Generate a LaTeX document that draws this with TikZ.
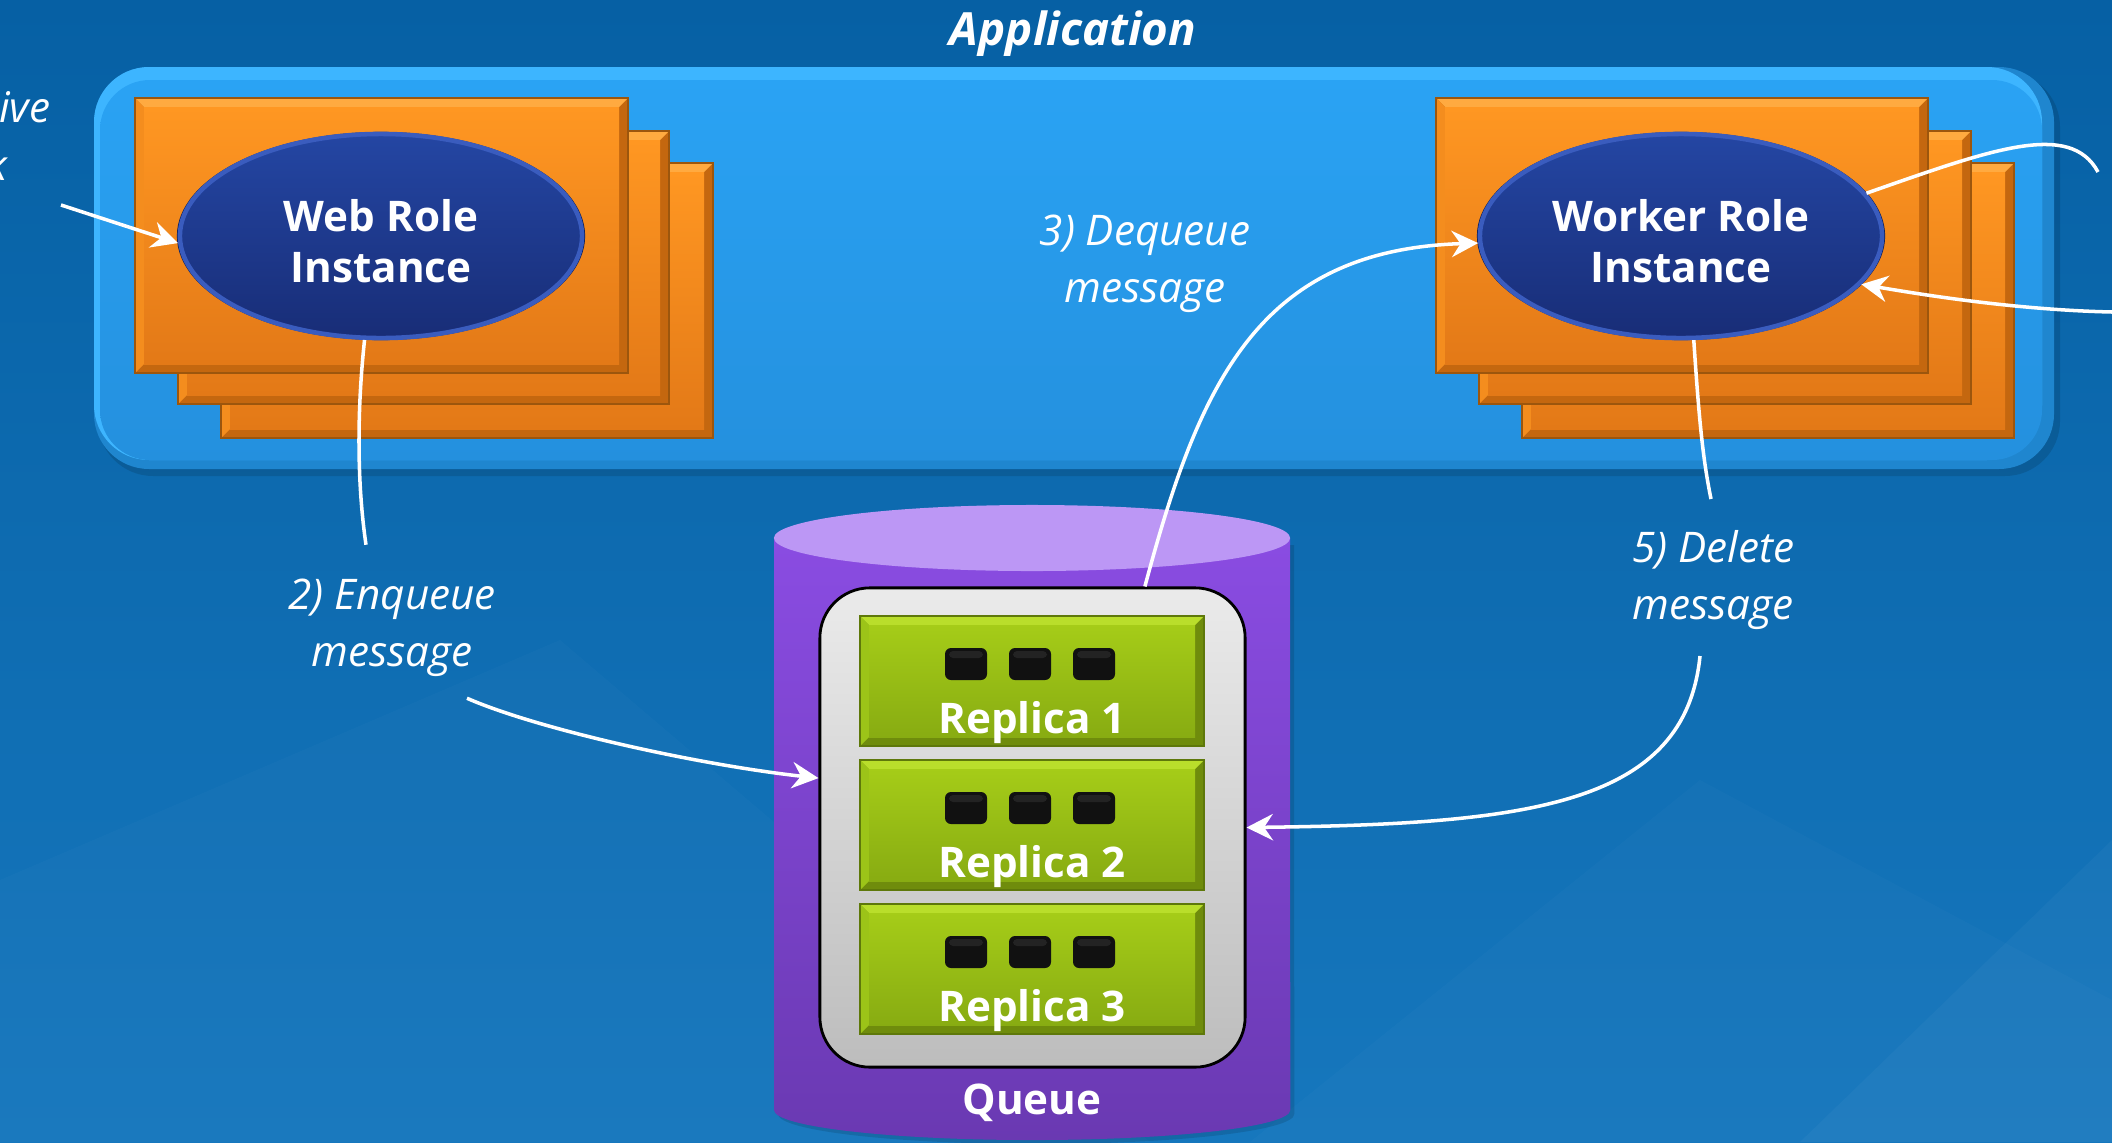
\documentclass[tikz,border=0pt]{standalone}
\usepackage{fontspec}
\setmainfont{Open Sans}
\usetikzlibrary{shapes.geometric,arrows.meta,calc}

\definecolor{bgTop}{HTML}{0660A4}
\definecolor{bgBot}{HTML}{1677BD}
\definecolor{contDark}{HTML}{1F86CF}
\definecolor{contLight}{HTML}{3DB5FF}
\definecolor{contTop}{HTML}{2AA3F4}
\definecolor{contBot}{HTML}{2490DE}
% orange bevel colours
\definecolor{odark}{HTML}{C4670F}
\definecolor{olight}{HTML}{FFAA40}
\definecolor{oleft}{HTML}{F48D1E}
\definecolor{otop}{HTML}{FF9722}
\definecolor{obot}{HTML}{E37917}
\definecolor{oline}{HTML}{9C560D}
% green bevel colours
\definecolor{gdark}{HTML}{6F8C0C}
\definecolor{glight}{HTML}{B9DE2B}
\definecolor{gleft}{HTML}{9CC418}
\definecolor{gtop}{HTML}{A5CC18}
\definecolor{gbot}{HTML}{88AC12}
\definecolor{gline}{HTML}{5E780A}
% ellipse
\definecolor{ellTop}{HTML}{2446A3}
\definecolor{ellBot}{HTML}{182D77}
\definecolor{ellEdge}{HTML}{3A5CBE}
\definecolor{ellOut}{HTML}{0E1D55}
% cylinder
\definecolor{cylTop}{HTML}{8A4CE2}
\definecolor{cylBot}{HTML}{6A39B2}
\definecolor{cylCap}{HTML}{BC97F5}
\definecolor{chipCol}{HTML}{111111}

\newcommand{\bevbox}[6]{%
  \fill[#5dark] (#1,#2) rectangle (#3,#4);
  \fill[#5light] (#1,#2) -- (#3,#2) -- (#3-#6,#2+#6) -- (#1+#6,#2+#6) -- cycle;
  \fill[#5left] (#1,#2) -- (#1+#6,#2+#6) -- (#1+#6,#4-#6) -- (#1,#4) -- cycle;
  \shade[top color=#5top, bottom color=#5bot] (#1+#6,#2+#6) rectangle (#3-#6,#4-#6);
  \draw[#5line, line width=0.6pt] (#1,#2) rectangle (#3,#4);
}

\begin{document}
\begin{tikzpicture}[x=0.01cm,y=-0.01cm,
  conn/.style={white, line width=1pt},
  arr/.style={-{Stealth[length=7.5pt,width=7.5pt,inset=2.5pt]}},
  roleell/.style={ellipse, minimum width=4.02cm, minimum height=2.04cm, inner sep=0pt,
    top color=ellTop, bottom color=ellBot, draw=ellEdge, line width=1.3pt},
  roletext/.style={text=white, font=\bfseries\fontsize{12pt}{14.5pt}\selectfont, align=center},
  lab/.style={text=white, font=\itshape\fontsize{12pt}{16.2pt}\selectfont, align=center},
  reptext/.style={text=white, font=\bfseries\fontsize{12pt}{14pt}\selectfont, anchor=base, inner sep=0pt}
]
\useasboundingbox (0,0) rectangle (2112,1142);

% background
\shade[top color=bgTop, bottom color=bgBot] (0,0) rectangle (2112,1142);
\fill[white, opacity=0.02] (0,1142) -- (0,880) -- (560,640) -- (1150,1142) -- cycle;
\fill[white, opacity=0.02] (1250,1142) -- (1700,780) -- (2112,1000) -- (2112,1142) -- cycle;
\fill[white, opacity=0.03] (1800,1142) -- (2112,840) -- (2112,1142) -- cycle;

% application container
\fill[black, opacity=0.12, rounded corners=0.55cm] (98,72) rectangle (2060,476);
\fill[contDark, rounded corners=0.55cm] (94,67) rectangle (2054,469);
\fill[contLight, rounded corners=0.55cm] (94,67) rectangle (2042,460);
\shade[top color=contTop, bottom color=contBot, rounded corners=0.5cm] (100,80) rectangle (2042,460);

% title
\node[text=white, font=\bfseries\itshape\fontsize{13pt}{15pt}\selectfont, anchor=base] (title) at (1073,45) {Application};

% web role stack
\bevbox{221}{163}{713}{438}{o}{9}
\bevbox{178}{131}{669}{404}{o}{9}
\bevbox{135}{98}{628}{373}{o}{9}
\fill[ellOut] (381,236) ellipse [x radius=2.04cm, y radius=1.04cm];
\node[roleell] (web) at (381,236) {};
\node[roletext] (webtxt) at (381,241) {Web Role\\Instance};

% worker role stack
\bevbox{1522}{163}{2014}{438}{o}{9}
\bevbox{1479}{131}{1971}{404}{o}{9}
\bevbox{1436}{98}{1928}{373}{o}{9}
\fill[ellOut] (1681,236) ellipse [x radius=2.04cm, y radius=1.04cm];
\node[roleell] (worker) at (1681,236) {};
\node[roletext] (workertxt) at (1681,241) {Worker Role\\Instance};

% queue cylinder
\fill[black, opacity=0.12] (778,545) -- (778,1114) arc[start angle=180, end angle=360, x radius=2.58cm, y radius=0.30cm] -- (1294,545) -- cycle;
\shade[top color=cylTop, bottom color=cylBot] (774,538) -- (774,1110) arc[start angle=180, end angle=360, x radius=2.58cm, y radius=0.30cm] -- (1290,538) -- cycle;
\fill[cylCap] (1032,538) ellipse [x radius=2.58cm, y radius=0.33cm];
\node[draw=black, line width=0.8pt, rounded corners=0.5cm, minimum width=4.25cm, minimum height=4.79cm,
  top color=white!92!black, bottom color=white!74!black, inner sep=0pt] (inner) at (1032.5,827.5) {};

% replicas
\foreach \Y/\n in {616/1,760/2,904/3} {
  \bevbox{860}{\Y}{1204}{\Y+130}{g}{9}
  \foreach \cx in {966,1030,1094} {
    \fill[chipCol, rounded corners=0.06cm] (\cx-21,\Y+32) rectangle (\cx+21,\Y+64);
    \fill[white, opacity=0.08, rounded corners=0.04cm] (\cx-17,\Y+35) rectangle (\cx+17,\Y+42);
  }
  \node[reptext] (rep\n) at (1032,\Y+117) {Replica \n};
}
\node[text=white, font=\bfseries\fontsize{12pt}{14pt}\selectfont] (queue) at (1032,1103) {Queue};

% labels
\node[lab] (deq) at (1145,264) {3) Dequeue\\message};
\node[lab] (enq) at (392,628) {2) Enqueue\\message};
\node[lab] (del) at (1713,580) {5) Delete\\message};
\node[lab, anchor=base east, inner sep=0pt] (recv) at (51,122) {ive};
\node[lab, anchor=base west, inner sep=0pt] (work) at (-14,180) {k};

% free ends
\coordinate (inL) at (61,205);
\coordinate (outR) at (2098,172);
\coordinate (inR) at (2112,312);

% connectors
\draw[conn, arr] (inL) -- (web.182);
\draw[conn] (web.261) .. controls (356,420) and (358,490) .. ($(enq.north)+(-26,-22)$);
\draw[conn, arr] ($(enq.south)+(75,9)$) .. controls (540,730) and (700,765) .. (inner.167);
\draw[conn, arr] (inner.65) .. controls (1200,380) and (1260,250) .. (worker.182);
\draw[conn] (worker.277) .. controls (1699,420) and (1703,460) .. ($(del.north)+(-2,-19)$);
\draw[conn, arr] ($(del.south)+(-13,14)$) .. controls (1685,805) and (1530,824) .. (inner.east);
\draw[conn] (worker.13) .. controls (1990,150) and (2070,120) .. (outR);
\draw[conn, arr] (inR) .. controls (2020,310) and (1930,296) .. (worker.345);
\end{tikzpicture}
\end{document}
